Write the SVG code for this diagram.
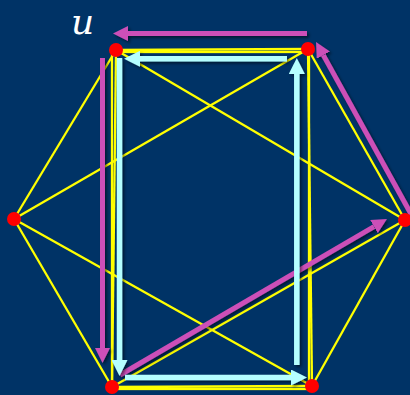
<svg xmlns="http://www.w3.org/2000/svg" width="410" height="395" viewBox="0 0 410 395">
<style>
.edge{stroke:#ffff00;stroke-width:2.3;fill:none}
.node{fill:#ff0000}
.pink{stroke:#cc4fb8;stroke-width:5;fill:none;filter:url(#sh)}
.cyan{stroke:#b5ffff;stroke-width:5.5;fill:none;filter:url(#sh)}
.lbl{font-family:"DejaVu Serif",serif;font-style:italic;font-size:36px;fill:#ffffff}
</style>
<defs>
<filter id="sh" filterUnits="userSpaceOnUse" x="0" y="0" width="410" height="395">
<feDropShadow dx="2" dy="2" stdDeviation="1.5" flood-color="#000000" flood-opacity="0.5"/>
</filter>
<marker id="hp" viewBox="0 0 15 15" refX="0" refY="7.5" markerWidth="15" markerHeight="15" markerUnits="userSpaceOnUse" orient="auto">
<path d="M0,0 L15,7.5 L0,15 z" fill="#cc4fb8"/>
</marker>
<marker id="hc" viewBox="0 0 16 16" refX="0" refY="8" markerWidth="16" markerHeight="16" markerUnits="userSpaceOnUse" orient="auto">
<path d="M0,0 L16,8 L0,16 z" fill="#b5ffff"/>
</marker>
</defs>
<rect width="410" height="395" fill="#003366"/>
<g id="connectors">
<rect class="edge" x="112" y="52" width="197" height="337"/>
<line class="edge" x1="116" y1="50" x2="308" y2="49"/>
<line class="edge" x1="116" y1="50" x2="405" y2="220"/>
<line class="edge" x1="116" y1="50" x2="112" y2="387"/>
<line class="edge" x1="116" y1="50" x2="14" y2="219"/>
<line class="edge" x1="308" y1="49" x2="405" y2="220"/>
<line class="edge" x1="308" y1="49" x2="312" y2="386"/>
<line class="edge" x1="308" y1="49" x2="14" y2="219"/>
<line class="edge" x1="405" y1="220" x2="312" y2="386"/>
<line class="edge" x1="405" y1="220" x2="112" y2="387"/>
<line class="edge" x1="312" y1="386" x2="112" y2="387"/>
<line class="edge" x1="312" y1="386" x2="14" y2="219"/>
<line class="edge" x1="112" y1="387" x2="14" y2="219"/>
<line class="pink" x1="307" y1="33.5" x2="128" y2="33.5" marker-end="url(#hp)"/>
<line class="pink" x1="102.5" y1="58" x2="102.5" y2="348" marker-end="url(#hp)"/>
<line class="pink" x1="411" y1="214" x2="323.3" y2="55.1" marker-end="url(#hp)"/>
<line class="pink" x1="120" y1="375" x2="374" y2="226.6" marker-end="url(#hp)"/>
<line class="cyan" x1="287" y1="58.8" x2="140" y2="58.8" marker-end="url(#hc)"/>
<line class="cyan" x1="119.5" y1="58" x2="119.5" y2="360" marker-end="url(#hc)"/>
<line class="cyan" x1="125" y1="377.5" x2="291" y2="377.5" marker-end="url(#hc)"/>
<line class="cyan" x1="296.8" y1="365" x2="296.8" y2="74" marker-end="url(#hc)"/>
</g>
<g id="n-tl"><circle class="node" cx="116" cy="50" r="7"/></g>
<g id="n-tr"><circle class="node" cx="308" cy="49" r="7"/></g>
<g id="n-r"><circle class="node" cx="405" cy="220" r="7"/></g>
<g id="n-br"><circle class="node" cx="312" cy="386" r="7"/></g>
<g id="n-bl"><circle class="node" cx="112" cy="387" r="7"/></g>
<g id="n-l"><circle class="node" cx="14" cy="219" r="7"/></g>
<text class="lbl" x="71" y="34">u</text>
</svg>
